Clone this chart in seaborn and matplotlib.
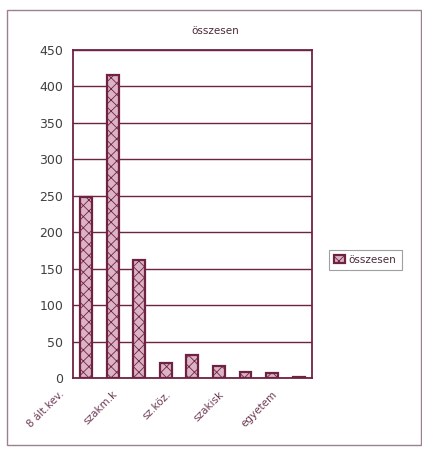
import numpy as np
import pandas as pd
import matplotlib
matplotlib.use('Agg')
import matplotlib.pyplot as plt
import matplotlib.transforms as mtransforms
from matplotlib.patches import Rectangle
import seaborn as sns

# Data (every second category label is hidden in the original)
categories = ['8 ált.kev.', '8 ált.', 'szakm.k', 'szakm.+', 'sz.köz.', 'gimn.', 'szakisk', 'főisk.', 'egyetem']
values = [248, 415, 162, 21, 31, 17, 8, 7, 2]
shown_labels = ['8 ált.kev.', 'szakm.k', 'sz.köz.', 'szakisk', 'egyetem']
series_name = 'összesen'

df = pd.DataFrame({'cat': categories, 'val': values})

maroon = '#6e2343'
fill = '#dcb3c4'

sns.set_style('white')
plt.rcParams['font.family'] = ['DejaVu Sans']
plt.rcParams['hatch.linewidth'] = 0.6

fig = plt.figure(figsize=(4.22, 4.49), dpi=100)
ax = fig.add_axes([0.173, 0.158, 0.566, 0.731])

sns.barplot(data=df, x='cat', y='val', color=fill, width=0.45, ax=ax,
            edgecolor=maroon, linewidth=1.6, label=series_name)
for p in ax.patches:
    p.set_hatch('xxx')
    p.set_facecolor(fill)
    p.set_edgecolor(maroon)

ax.set_ylim(0, 450)
ax.set_yticks(np.arange(0, 451, 50))
ax.yaxis.grid(True, color=maroon, linewidth=1.0)
ax.set_axisbelow(True)
ax.set_xlim(-0.5, len(categories) - 0.5)
for s in ax.spines.values():
    s.set_color(maroon)
    s.set_linewidth(1.3)
ax.tick_params(axis='y', direction='out', length=4, color=maroon, labelsize=9,
               labelcolor='#404040', pad=3)
ax.tick_params(axis='x', length=0)
ax.set_xlabel('')
ax.set_ylabel('')

idx = [categories.index(c) for c in shown_labels]
ax.set_xticks(idx)
ax.set_xticklabels(shown_labels, rotation=45, ha='right', va='top', fontsize=7.5,
                   color='#6e3a55')
offset = mtransforms.ScaledTranslation(-20 / 100, -6 / 100, fig.dpi_scale_trans)
for lab in ax.get_xticklabels():
    lab.set_transform(lab.get_transform() + offset)

fig.text(0.51, 0.932, series_name, ha='center', va='center', fontsize=7.5, color='#4a2a3a')

leg = ax.legend(loc='center left', bbox_to_anchor=(1.05, 0.36), frameon=True,
                fontsize=7.5, handlelength=1.0, handleheight=0.8, handletextpad=0.4,
                borderpad=0.5, fancybox=False)
leg.get_frame().set_edgecolor('#888888')
leg.get_frame().set_linewidth(0.8)
for t in leg.get_texts():
    t.set_color('#4a2a3a')

# outer chart border
fig.patches.append(Rectangle((0.017, 0.01), 0.98, 0.968, transform=fig.transFigure,
                             fill=False, edgecolor='#9a8090', linewidth=1.0))

fig.savefig('out.png', dpi=100)
